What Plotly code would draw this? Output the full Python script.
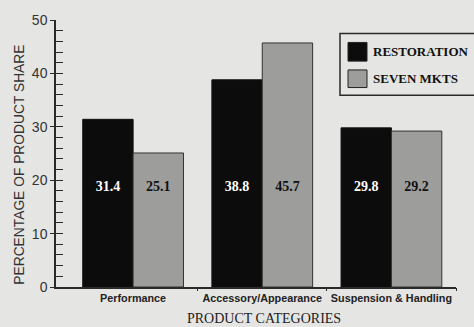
import plotly.graph_objects as go

# Product share by category
categories = ["Performance", "Accessory/Appearance", "Suspension & Handling"]
restoration = [31.4, 38.8, 29.8]
seven_mkts = [25.1, 45.7, 29.2]
series_names = ["RESTORATION", "SEVEN MKTS"]
y_ticks = [0, 10, 20, 30, 40, 50]
label_level = 18.7  # height at which value labels sit inside the bars

BLACK = "#0c0c0c"
GRAY = "#9d9d9b"
PAPER = "#e5e5e3"
INK = "#2a2a2a"
SERIF = "Liberation Serif"
SANS = "Liberation Sans"

xs = list(range(len(categories)))
offset = 0.195

fig = go.Figure()
fig.add_trace(go.Bar(x=xs, y=restoration, name=series_names[0],
                     marker=dict(color=BLACK, line=dict(color="#111", width=1))))
fig.add_trace(go.Bar(x=xs, y=seven_mkts, name=series_names[1],
                     marker=dict(color=GRAY, line=dict(color="#333", width=1))))

# value labels printed on the bars
fig.add_trace(go.Scatter(
    x=[x - offset for x in xs], y=[label_level] * len(xs), mode="text",
    text=[f"<b>{v:.1f}</b>" for v in restoration],
    textfont=dict(family=SERIF, size=14, color="white"),
    showlegend=False, hoverinfo="skip"))
fig.add_trace(go.Scatter(
    x=[x + offset for x in xs], y=[label_level] * len(xs), mode="text",
    text=[f"<b>{v:.1f}</b>" for v in seven_mkts],
    textfont=dict(family=SERIF, size=14, color="#111"),
    showlegend=False, hoverinfo="skip"))

# invisible trace carrying the overlay axes
fig.add_trace(go.Scatter(x=[None], y=[None], xaxis="x2", yaxis="y2",
                         showlegend=False, hoverinfo="skip"))

xrange = [-0.597, 2.5]
fig.update_layout(
    width=474, height=327,
    margin=dict(l=56, r=18, t=14, b=40),
    paper_bgcolor=PAPER, plot_bgcolor=PAPER,
    barmode="group", bargap=0.22, bargroupgap=0,
    showlegend=False,
    xaxis=dict(range=xrange, tickvals=xs, ticktext=categories, ticks="",
               showgrid=False, zeroline=False, showline=True,
               linecolor=INK, linewidth=1.5,
               tickfont=dict(family=SANS, size=10.8, color="#222", weight="bold")),
    xaxis2=dict(range=xrange, overlaying="x", side="bottom", anchor="y",
                tickvals=[0.5, 1.5, 2.5], showticklabels=False,
                ticks="outside", ticklen=3, tickcolor=INK, tickwidth=1.2,
                showgrid=False, zeroline=False, showline=False),
    yaxis=dict(range=[0, 50], tickvals=y_ticks, ticks="outside", ticklen=4,
               tickcolor=INK, tickwidth=1.2, showgrid=False, zeroline=False,
               showline=True, linecolor=INK, linewidth=1.5,
               tickfont=dict(family=SANS, size=14, color="#333")),
    yaxis2=dict(range=[0, 50], overlaying="y", dtick=2, ticks="inside",
                ticklen=7, tickcolor=INK, tickwidth=1.2,
                showticklabels=False, showgrid=False, zeroline=False,
                showline=False),
)

annotations = [
    dict(xref="paper", yref="paper", x=0.52, y=-0.118, yanchor="middle",
         showarrow=False, text="PRODUCT CATEGORIES",
         font=dict(family=SERIF, size=14, color="#222")),
    dict(xref="paper", yref="paper", x=-0.09, xanchor="center",
         y=0.458, yanchor="middle", textangle=-90, showarrow=False,
         text="PERCENTAGE OF PRODUCT SHARE",
         font=dict(family=SANS, size=13.8, color="#333")),
]

# legend box with large swatches
shapes = [dict(type="rect", xref="paper", yref="paper", x0=0.71, x1=1.2,
               y0=0.718, y1=0.949, line=dict(color=INK, width=1.5),
               fillcolor=PAPER)]
swatches = [(BLACK, 0.916, 0.846, series_names[0], 0.881),
            (GRAY, 0.813, 0.747, series_names[1], 0.780)]
for color, ytop, ybot, name, ymid in swatches:
    shapes.append(dict(type="rect", xref="paper", yref="paper",
                       x0=0.73, x1=0.7775, y0=ybot, y1=ytop,
                       line=dict(color="#222", width=1), fillcolor=color))
    annotations.append(dict(xref="paper", yref="paper", x=0.7875, y=ymid,
                            xanchor="left", yanchor="middle", showarrow=False,
                            text=f"<b>{name}</b>",
                            font=dict(family=SERIF, size=13, color="#111")))
fig.update_layout(shapes=shapes, annotations=annotations)

fig.write_html("out.html")
